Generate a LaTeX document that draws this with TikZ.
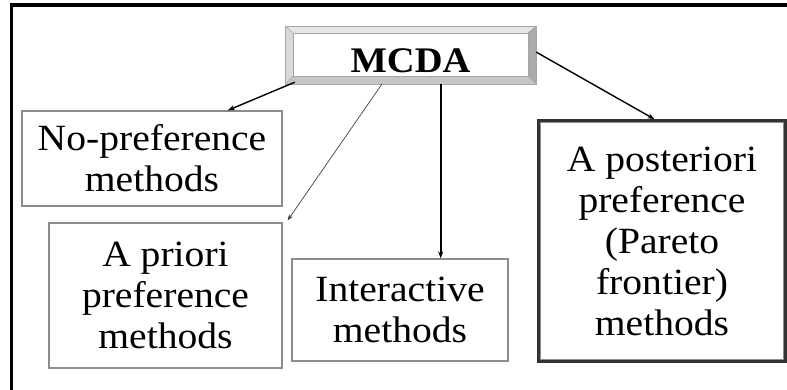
\documentclass[tikz,border=0pt]{standalone}
\usepackage{fontspec}
\setmainfont{Liberation Serif}[FakeStretch=1.07]
\usetikzlibrary{arrows.meta,calc}
\definecolor{boxgray}{HTML}{8C8C8C}
\tikzset{
  methodbox/.style={draw=boxgray, line width=1.3pt, align=center, inner sep=0pt,
    font=\fontsize{37}{41}\selectfont},
  arr/.style={-{Stealth[length=7pt,width=5pt]}, line width=1.4pt, black},
  thinarr/.style={-{Stealth[length=6pt,width=4.5pt]}, line width=0.7pt, black!75},
}
\begin{document}
\begin{tikzpicture}[x=1pt,y=-1pt]
\useasboundingbox (0,0) rectangle (787,389);
% outer frame (top and left)
\draw[line width=3.5pt, line cap=rect] (787,5) -- (11.5,5) -- (11.5,389);
% MCDA bevelled box
\node[minimum width=251pt, minimum height=58pt, inner sep=0pt] (mcda) at (410.5,55) {};
\fill[gray!20] (285,26) -- (536,26) -- (528,33) -- (293,33) -- cycle;
\fill[gray!30] (285,26) -- (293,33) -- (293,76) -- (285,84) -- cycle;
\fill[gray!65] (536,26) -- (536,84) -- (528,76) -- (528,33) -- cycle;
\fill[gray!45] (285,84) -- (293,76) -- (528,76) -- (536,84) -- cycle;
\draw[gray!70, line width=0.8pt] (285,26) rectangle (536,84);
\draw[gray!70, line width=0.8pt] (293,33) rectangle (528,76);
\draw[gray!70, line width=0.5pt] (285,26) -- (293,33) (536,26) -- (528,33) (285,84) -- (293,76) (536,84) -- (528,76);
\node[anchor=base, font=\fontsize{36}{40}\selectfont\bfseries] (mcdatext) at (410.5,72) {MCDA};
% method boxes
\node[methodbox, minimum width=260pt, minimum height=95pt] (nopref) at (152,158.5)
  {No-preference\\methods};
\node[methodbox, minimum width=233pt, minimum height=145pt] (apriori) at (165.5,295.5)
  {A priori\\preference\\methods};
\node[methodbox, minimum width=216pt, minimum height=102pt] (inter) at (400,310)
  {Interactive\\methods};
\node[methodbox, draw=black!80, line width=3.5pt, minimum width=246pt, minimum height=240pt] (apost) at (662,241)
  {A posteriori\\preference\\(Pareto\\frontier)\\methods};
\draw[boxgray, line width=1pt] ($(apost.north west)+(3.5,3.5)$) rectangle ($(apost.south east)+(-3.5,-3.5)$);
% connectors
\coordinate (s1) at ($(mcda.south west)!0.04!(mcda.south east)+(0,-2)$);
\coordinate (e1) at ($(nopref.north west)!0.79!(nopref.north east)$);
\draw[arr] (s1) -- (e1);
\coordinate (s2) at ($(mcda.south west)!0.386!(mcda.south east)$);
\draw[thinarr] (s2) -- ($(apriori.north east)+(5,-2)$);
\coordinate (s3) at ($(mcda.south west)!0.62!(mcda.south east)$);
\draw[arr, line width=1.8pt] (s3) -- (s3 |- inter.north);
\coordinate (s4) at ($(mcda.north east)!0.45!(mcda.south east)$);
\coordinate (e4) at ($(apost.north west)!0.47!(apost.north east)$);
\draw[arr] (s4) -- (e4);
\end{tikzpicture}
\end{document}
